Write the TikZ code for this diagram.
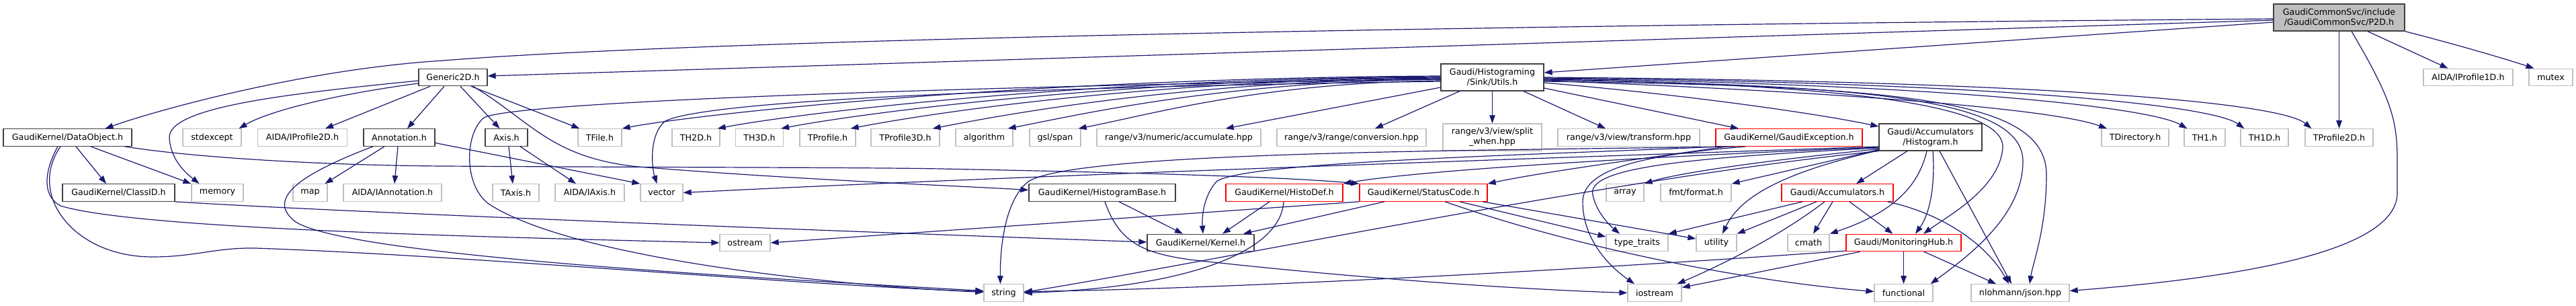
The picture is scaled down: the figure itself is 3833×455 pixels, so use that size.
\documentclass[tikz,border=0pt]{standalone}
\usepackage{fontspec}
\setmainfont{DejaVu Sans}
\usetikzlibrary{arrows.meta,calc}
\definecolor{edgec}{HTML}{191970}
\definecolor{boxblack}{HTML}{404040}
\definecolor{boxgray}{HTML}{BFBFBF}
\definecolor{boxred}{HTML}{FF0000}
\begin{document}
\begin{tikzpicture}[x=1pt,y=-1pt,
  every node/.style={font=\fontsize{12.7}{15}\selectfont, inner sep=0pt, align=center, text=black},
  nd/.style={draw=boxblack, line width=1.27pt, minimum height=25.5pt, fill=white},
  ext/.style={draw=boxgray, line width=1.27pt, minimum height=25.5pt, fill=white},
  trunc/.style={draw=boxred, line width=1.27pt, minimum height=25.5pt, fill=white},
  root/.style={draw=boxblack, line width=1.27pt, fill=boxgray, minimum height=40pt},
  two/.style={minimum height=40pt},
  edge/.style={draw=edgec, line width=1.2pt, -{Triangle[length=12pt,width=8.5pt]}},
]
\useasboundingbox (0,0) rectangle (3833,455);
% row 1
\node[root, minimum width=195pt] (p2d) at (3480.5,26) {GaudiCommonSvc/include\\/GaudiCommonSvc/P2D.h};
% row 2
\node[nd, minimum width=102pt] (gen) at (674,115) {Generic2D.h};
\node[nd, two, minimum width=153pt] (utils) at (2220.5,115) {Gaudi/Histograming\\/Sink/Utils.h};
\node[ext, minimum width=133pt] (ip1) at (3672.5,115) {AIDA/IProfile1D.h};
\node[ext, minimum width=65pt] (mutex) at (3795.5,115) {mutex};
% row 3
\node[nd, minimum width=191pt] (dobj) at (100.5,204.5) {GaudiKernel/DataObject.h};
\node[ext, minimum width=87pt] (stdexc) at (315.5,204.5) {stdexcept};
\node[ext, minimum width=133pt] (ip2) at (450,204.5) {AIDA/IProfile2D.h};
\node[nd, minimum width=106pt] (annot) at (594,204.5) {Annotation.h};
\node[nd, minimum width=63pt] (axis) at (753.5,204.5) {Axis.h};
\node[ext, minimum width=65pt] (tfile) at (892.5,204.5) {TFile.h};
\node[ext, minimum width=71pt] (th2d) at (1035.5,204.5) {TH2D.h};
\node[ext, minimum width=71pt] (th3d) at (1130,204.5) {TH3D.h};
\node[ext, minimum width=83pt] (tprof) at (1231.5,204.5) {TProfile.h};
\node[ext, minimum width=102pt] (tprof3) at (1347,204.5) {TProfile3D.h};
\node[ext, minimum width=85pt] (algo) at (1464.5,204.5) {algorithm};
\node[ext, minimum width=76pt] (span) at (1570,204.5) {gsl/span};
\node[ext, minimum width=244pt] (accum) at (1754,204.5) {range/v3/numeric/accumulate.hpp};
\node[ext, minimum width=222pt] (conv) at (2011,204.5) {range/v3/range/conversion.hpp};
\node[ext, two, minimum width=147pt] (split) at (2220.5,204) {range/v3/view/split\\\_when.hpp};
\node[ext, minimum width=211pt] (transf) at (2423.5,204.5) {range/v3/view/transform.hpp};
\node[trunc, minimum width=218pt] (gexc) at (2662,204.5) {GaudiKernel/GaudiException.h};
\node[nd, two, minimum width=153pt] (histo) at (2872.5,204) {Gaudi/Accumulators\\/Histogram.h};
\node[ext, minimum width=100pt] (tdir) at (3177,204.5) {TDirectory.h};
\node[ext, minimum width=61pt] (th1) at (3280.5,204.5) {TH1.h};
\node[ext, minimum width=71pt] (th1d) at (3369.5,204.5) {TH1D.h};
\node[ext, minimum width=101pt] (tprof2) at (3480.5,204.5) {TProfile2D.h};
% row 4
\node[nd, minimum width=167pt] (classid) at (176.5,286.5) {GaudiKernel/ClassID.h};
\node[ext, minimum width=77pt] (memory) at (323.5,286.5) {memory};
\node[ext, minimum width=51pt] (map) at (461.5,286.5) {map};
\node[ext, minimum width=146pt] (iannot) at (584,286.5) {AIDA/IAnnotation.h};
\node[ext, minimum width=69pt] (taxis) at (767.5,286.5) {TAxis.h};
\node[ext, minimum width=103pt] (iaxis) at (877.5,286.5) {AIDA/IAxis.h};
\node[ext, minimum width=63pt] (vector) at (984.5,286.5) {vector};
\node[nd, minimum width=218pt] (hbase) at (1640,286.5) {GaudiKernel/HistogramBase.h};
\node[trunc, minimum width=174pt] (hdef) at (1911,286.5) {GaudiKernel/HistoDef.h};
\node[trunc, minimum width=190pt] (scode) at (2118,286.5) {GaudiKernel/StatusCode.h};
\node[ext, minimum width=56pt] (array) at (2418,286.5) {array};
\node[ext, minimum width=105pt] (fmt) at (2523.5,286.5) {fmt/format.h};
\node[trunc, minimum width=166pt] (accs) at (2734,286.5) {Gaudi/Accumulators.h};
% row 5
\node[ext, minimum width=75pt] (ostream) at (1108.5,361) {ostream};
\node[nd, minimum width=159pt] (kernel) at (1786.5,361) {GaudiKernel/Kernel.h};
\node[ext, minimum width=92pt] (ttraits) at (2436,361) {type\_traits};
\node[ext, minimum width=60pt] (utility) at (2554,361) {utility};
\node[ext, minimum width=62pt] (cmath) at (2691,361) {cmath};
\node[trunc, minimum width=171pt] (mhub) at (2832.5,361) {Gaudi/MonitoringHub.h};
% row 6
\node[ext, minimum width=59pt] (string) at (1493.5,435.5) {string};
\node[ext, minimum width=80pt] (iostream) at (2462,435.5) {iostream};
\node[ext, minimum width=87pt] (functional) at (2832.5,435.5) {functional};
\node[ext, minimum width=146pt] (json) at (3006,435.5) {nlohmann/json.hpp};

% ---- P2D
\draw[edge] ($(p2d.west)+(0,2)$) .. controls (2400,36) and (1100,55) .. (660,90) .. controls (450,103) and (230,165) .. ($(dobj.north)+(56,0)$);
\draw[edge] ($(p2d.west)+(0,4)$) -- ($(gen.east)+(0,-2)$);
\draw[edge] ($(p2d.west)+(0,7)$) -- ($(utils.east)+(0,-7)$);
\draw[edge] ($(p2d.south)+(42.5,0)$) -- ($(ip1.north)+(-30,0)$);
\draw[edge] (p2d.south east) .. controls (3650,65) and (3720,85) .. ($(mutex.north)+(-25,0)$);
\draw[edge] (p2d.south) -- (tprof2.north);
\draw[edge] ($(p2d.south)+(18.5,0)$) .. controls (3560,150) and (3567,180) .. (3567,240) -- (3567,287) .. controls (3567,380) and (3300,415) .. ($(json.east)+(0,-3)$);
% ---- Generic2D
\draw[edge] ($(gen.west)+(0,5)$) .. controls (420,140) and (250,160) .. (252,205) .. controls (254,240) and (280,260) .. ($(memory.north)+(-27,0)$);
\draw[edge] ($(gen.west)+(0,9)$) .. controls (500,140) and (400,165) .. ($(stdexc.north)+(40,0)$);
\draw[edge] ($(gen.south)+(-34,0)$) -- ($(ip2.north)+(34,0)$);
\draw[edge] ($(gen.south)+(-13,0)$) -- ($(annot.north)+(12,0)$);
\draw[edge] ($(gen.south)+(11,0)$) -- ($(axis.north)+(-10,0)$);
\draw[edge] ($(gen.south)+(27,0)$) -- ($(tfile.north west)+(3,0)$);
\draw[edge] ($(gen.south)+(30,0)$) .. controls (790,180) and (820,235) .. (950,248) .. controls (1200,268) and (1400,275) .. ($(hbase.west)+(0,-4)$);
% ---- DataObject
\draw[edge] ($(dobj.south)+(12.5,0)$) -- ($(classid.north)+(-18.5,0)$);
\draw[edge] ($(dobj.south)+(34.5,0)$) -- (memory.north west);
\draw[edge] ($(dobj.south)+(85,0)$) .. controls (300,236) and (500,246) .. (660,247) .. controls (1000,249) and (1300,249) .. (1400,251) .. controls (1650,256) and (1900,262) .. (scode.north west);
\draw[edge] ($(dobj.south)+(-14.5,0)$) .. controls (68,250) and (60,290) .. (90,306) .. controls (200,340) and (700,352) .. (ostream.west);
\draw[edge] ($(dobj.south)+(-10.5,0)$) .. controls (40,290) and (110,382) .. (227,382) .. controls (290,382) and (320,368) .. (380,369) .. controls (700,380) and (1200,425) .. ($(string.west)+(0,-2)$);
% ---- ClassID
\draw[edge] (classid.south east) .. controls (450,312) and (1000,335) .. ($(kernel.west)+(0,-1)$);
% ---- Annotation
\draw[edge] ($(annot.south)+(-22,0)$) -- ($(map.north)+(22,0)$);
\draw[edge] ($(annot.south)+(-2,0)$) -- ($(iannot.north)+(3,0)$);
\draw[edge] ($(annot.east)+(0,8)$) -- (vector.north west);
\draw[edge] ($(annot.south)+(-39,0)$) .. controls (430,265) and (400,300) .. (440,330) .. controls (520,380) and (1100,412) .. ($(string.west)+(0,-3)$);
% ---- Axis
\draw[edge] ($(axis.south)+(3.5,0)$) -- ($(taxis.north)+(-4.5,0)$);
\draw[edge] ($(axis.south)+(20.5,0)$) -- ($(iaxis.north)+(-20.5,0)$);
% ---- Utils, left fan
\draw[edge] ($(utils.west)+(0,-2)$) .. controls (1530,116) and (1035,170) .. (tfile.north east);
\draw[edge] ($(utils.west)+(0,-1)$) .. controls (1600,117) and (1177,170) .. ($(th2d.north east)+(-4,0)$);
\draw[edge] ($(utils.west)+(0,0)$) .. controls (1650,118) and (1272,170) .. ($(th3d.north east)+(-4,0)$);
\draw[edge] ($(utils.west)+(0,1)$) .. controls (1700,119) and (1375,170) .. ($(tprof.north east)+(-8,0)$);
\draw[edge] ($(utils.west)+(0,2)$) .. controls (1765,120) and (1497,170) .. ($(tprof3.north east)+(-11,0)$);
\draw[edge] ($(utils.west)+(0,3)$) .. controls (1820,121) and (1609,170) .. ($(algo.north east)+(-8,0)$);
\draw[edge] ($(utils.west)+(0,5)$) .. controls (1875,123) and (1714,170) .. ($(span.north east)+(-4,0)$);
\draw[edge] ($(utils.west)+(0,15)$) -- ($(accum.north east)+(-53,0)$);
\draw[edge] ($(utils.west)+(0,3)$) .. controls (1600,125) and (770,148) .. (720,175) .. controls (690,200) and (690,280) .. (730,305) .. controls (850,380) and (1200,422) .. ($(string.west)+(0,-1)$);
\draw[edge] ($(utils.west)+(0,6)$) .. controls (1500,130) and (1050,150) .. (990,180) .. controls (965,200) and (970,250) .. ($(vector.north)+(-7,0)$);
% ---- Utils, down
\draw[edge] ($(utils.south)+(-48.5,0)$) -- ($(conv.north)+(35,0)$);
\draw[edge] (utils.south) -- (split.north);
\draw[edge] ($(utils.south)+(46.5,0)$) -- ($(transf.north)+(-34.5,0)$);
% ---- Utils, right fan
\draw[edge] ($(utils.east)+(0,16)$) -- ($(gexc.north)+(-75,0)$);
\draw[edge] ($(utils.east)+(0,8)$) .. controls (2500,140) and (2700,168) .. ($(histo.west)+(0,-16)$);
\draw[edge] ($(utils.east)+(0,5)$) .. controls (2700,135) and (3050,160) .. ($(tdir.north)+(-42,0)$);
\draw[edge] ($(utils.east)+(0,2)$) .. controls (2900,125) and (3200,160) .. ($(th1.north west)+(5,0)$);
\draw[edge] ($(utils.east)+(0,1)$) .. controls (2950,122) and (3290,155) .. ($(th1d.north west)+(6,0)$);
\draw[edge] (utils.east) .. controls (3000,120) and (3390,150) .. ($(tprof2.north west)+(10,0)$);
\draw[edge] ($(utils.east)+(0,3)$) .. controls (2700,125) and (2985,150) .. (2980,220) .. controls (2975,280) and (2900,320) .. ($(mhub.north)+(29.5,0)$);
\draw[edge] ($(utils.east)+(0,4)$) .. controls (2800,126) and (3010,150) .. (3010,240) .. controls (3010,320) and (2930,380) .. ($(functional.north east)+(-4,0)$);
\draw[edge] ($(utils.east)+(0,6)$) .. controls (2850,128) and (3045,150) .. (3045,260) .. controls (3045,340) and (3025,390) .. ($(json.north)+(14,0)$);
% ---- Histogram
\draw[edge] ($(histo.south)+(-34.5,0)$) -- ($(accs.north)+(28,0)$);
\draw[edge] ($(histo.south)+(-5.5,0)$) .. controls (2855,275) and (2820,315) .. (cmath.north east);
\draw[edge] ($(histo.south)+(3.5,0)$) .. controls (2880,280) and (2870,320) .. ($(mhub.north)+(17.5,0)$);
\draw[edge] ($(histo.south)+(13.5,0)$) -- ($(json.north)+(-13,0)$);
\draw[edge] ($(histo.south west)+(0,-2)$) -- (fmt.north east);
\draw[edge] ($(histo.south west)+(0,-3)$) .. controls (2650,236) and (2500,256) .. (array.north east);
\draw[edge] ($(histo.south west)+(0,-1)$) .. controls (2660,255) and (2590,290) .. ($(utility.north)+(9,0)$);
\draw[edge] ($(histo.west)+(0,16)$) .. controls (2500,235) and (2360,250) .. (2370,290) .. controls (2375,315) and (2395,335) .. ($(ttraits.north)+(-26,0)$);
\draw[edge] ($(histo.west)+(0,15)$) .. controls (2400,235) and (2100,255) .. (hdef.north east);
\draw[edge] (histo.south west) .. controls (2400,265) and (1800,390) .. ($(string.east)+(0,-1)$);
\draw[edge] ($(histo.west)+(0,14)$) .. controls (2300,235) and (1500,262) .. (vector.east);
% ---- GaudiException
\draw[edge] ($(gexc.south west)+(17,0)$) .. controls (2450,235) and (2300,255) .. (scode.north east);
\draw[edge] ($(gexc.south west)+(7,0)$) .. controls (2300,230) and (1850,240) .. (1810,270) .. controls (1792,290) and (1788,320) .. ($(kernel.north)+(3.5,0)$);
\draw[edge] ($(gexc.south west)+(30,0)$) .. controls (2200,224) and (1600,225) .. (1530,270) .. controls (1492,300) and (1488,380) .. ($(string.north)+(-5,0)$);
\draw[edge] ($(gexc.south west)+(45,0)$) .. controls (2450,230) and (2355,250) .. (2355,300) .. controls (2355,360) and (2400,400) .. ($(iostream.north)+(-30,0)$);
% ---- StatusCode
\draw[edge] ($(scode.south)+(-58,0)$) -- ($(kernel.north)+(63.5,0)$);
\draw[edge] (scode.south west) -- (ostream.east);
\draw[edge] ($(scode.south)+(54,0)$) -- ($(ttraits.west)+(0,-9)$);
\draw[edge] ($(scode.south)+(88,0)$) -- ($(utility.west)+(0,-6)$);
\draw[edge] ($(scode.south)+(32,0)$) .. controls (2350,370) and (2600,418) .. ($(functional.west)+(0,-2)$);
% ---- HistoDef
\draw[edge] ($(hdef.south)+(-22,0)$) -- ($(kernel.north)+(32.5,0)$);
\draw[edge] ($(hdef.south)+(-1,0)$) .. controls (1905,380) and (1750,428) .. (string.east);
% ---- HistogramBase
\draw[edge] ($(hbase.south)+(25,0)$) -- ($(kernel.north)+(-26.5,0)$);
\draw[edge] ($(hbase.south)+(4,0)$) .. controls (1665,360) and (1700,376) .. (1770,386) .. controls (2000,412) and (2250,430) .. (iostream.west);
% ---- Accumulators
\draw[edge] ($(accs.south)+(-52,0)$) -- (ttraits.north east);
\draw[edge] ($(accs.south)+(-31,0)$) -- (utility.north east);
\draw[edge] ($(accs.south)+(-19,0)$) .. controls (2650,350) and (2560,395) .. ($(iostream.north east)+(-7,0)$);
\draw[edge] ($(accs.south)+(-7,0)$) -- ($(cmath.north)+(7,0)$);
\draw[edge] ($(accs.south)+(18,0)$) -- ($(mhub.north west)+(70,0)$);
\draw[edge] ($(accs.south east)+(-9,0)$) .. controls (2900,320) and (2960,370) .. ($(json.north)+(-17,0)$);
% ---- MonitoringHub
\draw[edge] (mhub.south) -- (functional.north);
\draw[edge] ($(mhub.south)+(30.5,0)$) -- ($(json.north)+(-36,0)$);
\draw[edge] ($(mhub.west)+(0,12)$) .. controls (2300,405) and (1800,430) .. ($(string.east)+(0,-2)$);
\draw[edge] ($(mhub.south west)+(21,0)$) -- ($(iostream.east)+(0,-8)$);
\end{tikzpicture}
\end{document}
